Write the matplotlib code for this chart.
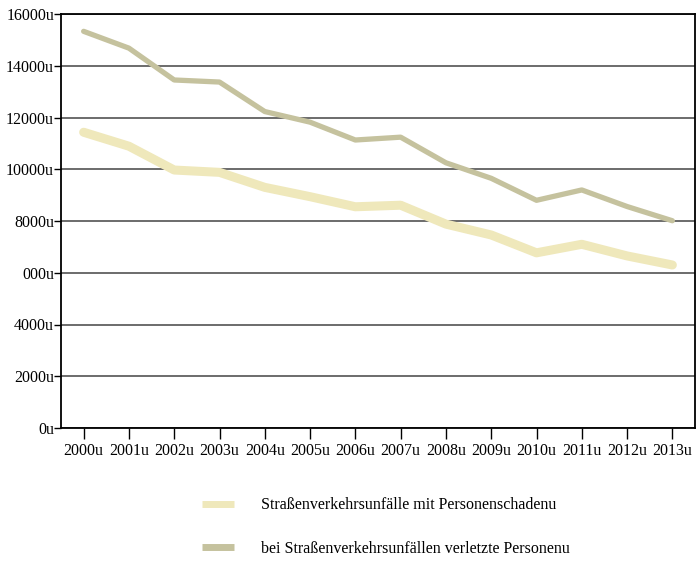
import matplotlib
matplotlib.use("Agg")
import matplotlib.pyplot as plt

years = ["2000u", "2001u", "2002u", "2003u", "2004u", "2005u", "2006u",
         "2007u", "2008u", "2009u", "2010u", "2011u", "2012u", "2013u"]
unfaelle = [11430, 10890, 9970, 9880, 9300, 8940, 8550,
            8610, 7880, 7460, 6770, 7100, 6650, 6300]
verletzte = [15330, 14680, 13450, 13370, 12230, 11820, 11130,
             11240, 10250, 9650, 8800, 9200, 8560, 8010]
ytick_vals = [0, 2000, 4000, 6000, 8000, 10000, 12000, 14000, 16000]
ytick_labels = ["0u", "2000u", "4000u", "000u", "8000u", "10000u", "12000u", "14000u", "16000u"]
label_unf = "Straßenverkehrsunfälle mit Personenschadenu"
label_ver = "bei Straßenverkehrsunfällen verletzte Personenu"

plt.rcParams['font.family'] = ['Liberation Serif', 'DejaVu Serif']
plt.rcParams['font.size'] = 11.5

fig = plt.figure(figsize=(6.97, 5.61), dpi=100)
ax = fig.add_axes([61/697, 1-428/561, (695-61)/697, (428-14)/561])

x = list(range(len(years)))
l1, = ax.plot(x, unfaelle, color="#efe8bb", lw=6.5, solid_capstyle="round",
              solid_joinstyle="round", label=label_unf, zorder=3)
l2, = ax.plot(x, verletzte, color="#c5c29e", lw=3.8, solid_capstyle="round",
              solid_joinstyle="round", label=label_ver, zorder=3)

ax.set_xlim(-0.5, len(years) - 0.5)
ax.set_ylim(0, 16000)
ax.set_yticks(ytick_vals)
ax.set_yticklabels(ytick_labels)
ax.set_xticks(x)
ax.set_xticklabels(years)
ax.yaxis.grid(True, color="#444444", lw=1.1)
ax.set_axisbelow(True)
ax.tick_params(axis="y", length=5, width=1, pad=0, labelsize=11.5)
ax.tick_params(axis="x", length=8, width=1, pad=3, labelsize=11.5)
for s in ax.spines.values():
    s.set_color("black")
    s.set_linewidth(1.3)

leg = fig.legend(handles=[l1, l2], loc="upper left",
                 bbox_to_anchor=(188/697, 1-483/561), frameon=False,
                 handlelength=2.0, handletextpad=1.7, labelspacing=1.72,
                 fontsize=11.5)
for ln in leg.get_lines():
    ln.set_linewidth(5)
    ln.set_solid_capstyle("butt")

fig.savefig("out.png", dpi=100)
